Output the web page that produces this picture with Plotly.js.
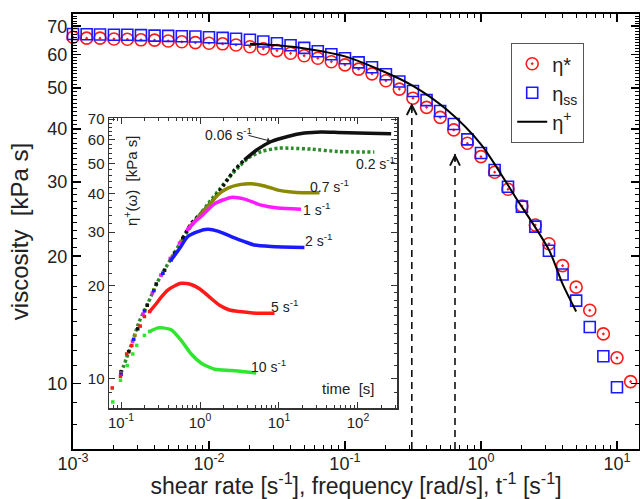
<!DOCTYPE html>
<html><head><meta charset="utf-8">
<script src="https://cdn.plot.ly/plotly-3.0.1.min.js"></script>
<style>html,body{margin:0;padding:0;background:#fff}#chart{width:640px;height:499px}</style>
</head><body><div id="chart"></div>
<script>
// ---------- main plot data ----------
const freqStar = [0.000794,0.001,0.00126,0.00158,0.002,0.00251,0.00316,0.00398,0.00501,0.00631,0.00794,
  0.01,0.0126,0.0158,0.02,0.0251,0.0316,0.0398,0.0501,0.0631,0.0794,
  0.1,0.126,0.158,0.2,0.251,0.316,0.398,0.501,0.631,0.794,
  1,1.26,1.58,2,2.51,3.16,3.98,5.01,6.31,7.94,10,12.6,15.8];
const etaStar = [64.5,65.9,65.6,65.6,65.3,65.2,65.0,64.9,64.6,64.3,64.0,
  63.8,63.6,63.2,62.6,61.9,61.3,60.4,59.6,58.8,57.7,
  56.7,55.4,54.0,52.0,49.7,47.3,45.0,42.6,39.8,37.0,
  34.4,31.6,28.8,26.3,23.7,21.4,19.0,16.9,14.9,13.1,11.5,10.1,8.8];
const freqSS = [0.001,0.00126,0.00158,0.002,0.00251,0.00316,0.00398,0.00501,0.00631,0.00794,
  0.01,0.0126,0.0158,0.02,0.0251,0.0316,0.0398,0.0501,0.0631,0.0794,
  0.1,0.126,0.158,0.2,0.251,0.316,0.398,0.501,0.631,0.794,
  1,1.26,1.58,2,2.51,3.16,3.98,5.01,6.31,7.94,10];
const etaSS = [67.1,67.0,66.9,66.8,66.8,66.7,66.5,66.4,66.3,66.2,
  65.9,65.7,65.4,65.0,64.4,63.8,63.1,62.2,61.1,60.1,
  58.8,57.5,56.0,53.9,51.8,49.2,46.8,44.1,41.1,37.8,
  35.1,32.0,29.2,26.2,23.5,20.6,18.1,15.7,13.6,11.6,9.8];
const ratePlus = [0.02,0.0316,0.0562,0.1,0.178,0.316,0.562,1,1.78,3.16,3.98,5.01];
const etaPlus  = [63.6,63.1,61.7,59.4,55.3,50.6,44.4,36.8,27.7,20.7,17.2,14.8];
const arrowRates = [0.31, 0.644];
const arrowTips  = [46.1, 35.0];
const mainXTicks = [0.001,0.01,0.1,1,10];
const mainXTickText = ['10<sup>-3</sup>','10<sup>-2</sup>','10<sup>-1</sup>','10<sup>0</sup>','10<sup>1</sup>'];
const mainYTicks = [10,20,30,40,50,60,70];

// ---------- inset data (time in s, eta+ in kPa s) ----------
const t006Rise = [0.1,0.125,0.163,0.215,0.279,0.356,0.476,0.605];
const e006Rise = [10.5,12.2,14.5,17.3,20.3,22.5,25.6,28.6];
const t006Dot  = [0.605,0.774,1.14,1.53,2.04,2.73,3.66];
const e006Dot  = [28.6,32.0,35.4,38.7,43.0,47.8,51.6];
const t006     = [3.66,5.4,7.97,12.9,21.0,34.2,55.5,99,263];
const e006     = [51.6,55.9,59.2,61.5,63.1,63.6,63.4,63.1,62.7];

const t02 = [0.1,0.13,0.17,0.22,0.29,0.37,0.48,0.62,0.8,1.04,1.35,1.75,2.3,3.0,4.03,5.96,9.67,14.2,25.5,55.5,161];
const e02 = [10.4,12.5,15.3,17.6,20.6,23.0,25.8,28.8,31.8,34.7,37.9,41.2,45.0,48.5,52.2,54.9,56.3,56.3,55.9,54.9,54.7];

const t07Rise = [0.1,0.15,0.2,0.26,0.34,0.45,0.58,0.75];
const e07Rise = [10.4,13.8,16.6,19.4,22.0,25.0,28.0,31.3];
const t07 = [0.75,1.0,1.26,1.68,2.25,3.32,4.44,6.55,9.67,14.3,20,32.6];
const e07 = [31.3,34.0,36.3,39.6,41.7,42.9,43.1,42.4,41.1,40.5,40.3,40.3];

const t1Rise = [0.1,0.14,0.19,0.25,0.32,0.42,0.55,0.7];
const e1Rise = [10.3,13.2,16.2,19.0,21.7,24.6,27.6,30.6];
const t1 = [0.7,0.85,1.03,1.53,2.48,3.66,5.96,9.67,19];
const e1 = [30.6,32.3,33.7,37.1,38.9,38.4,36.7,35.9,35.6];

const t2Rise = [0.1,0.145,0.198,0.26,0.338,0.431];
const e2Rise = [10.3,13.4,16.6,19.3,22.0,24.3];
const t2 = [0.431,0.551,0.70,0.94,1.26,1.68,2.48,3.66,4.87,7.97,21];
const e2 = [24.3,26.5,29.0,30.1,30.6,30.2,29.0,27.9,27.2,26.9,26.7];

const t5Rise = [0.0774,0.0985,0.118,0.137,0.175,0.198,0.23];
const e5Rise = [9.3,10.15,12.0,12.8,14.8,15.9,16.5];
const t5 = [0.23,0.279,0.323,0.391,0.475,0.578,0.736,0.986,1.32,1.77,2.36,3.16,5.14,8.77];
const e5 = [16.5,17.5,18.4,19.4,20.0,20.4,20.3,19.6,18.4,17.3,16.7,16.5,16.3,16.3];

const t10Rise = [0.0787,0.0985,0.12,0.141,0.158,0.198,0.23];
const e10Rise = [8.37,9.85,11.0,12.0,12.8,13.8,14.2];
const t10 = [0.23,0.292,0.338,0.431,0.578,0.774,1.04,1.53,2.48,3.66,5.14];
const e10 = [14.2,14.6,14.6,14.4,13.3,12.0,11.2,10.7,10.6,10.5,10.4];

const insetXTicks = [0.1,1,10,100];
const insetXTickText = ['10<sup>-1</sup>','10<sup>0</sup>','10<sup>1</sup>','10<sup>2</sup>'];
const insetYTicks = [10,20,30,40,50,60,70];
const rateLabels = ['0.06 s<sup>-1</sup>','0.2 s<sup>-1</sup>','0.7 s<sup>-1</sup>','1 s<sup>-1</sup>','2 s<sup>-1</sup>','5 s<sup>-1</sup>','10 s<sup>-1</sup>'];

// ---------- helpers ----------
const FONT = 'Liberation Sans, Arial, sans-serif';
const L = 73, T = 14, PW = 566, PH = 435;
const px = x => (x - L) / PW;
const py = y => (T + PH - y) / PH;
function minorLog(lo, hi) { const v = []; for (let d = lo; d < hi; d++) for (let k = 2; k <= 9; k++) v.push(k * Math.pow(10, d)); return v; }
function intTicks(a, b, step, skip) { const v = []; for (let i = a; i <= b; i += step) if (!skip.includes(i)) v.push(i); return v; }
const mainYMinor = intTicks(7, 74, 1, mainYTicks);
const insetYMinor = intTicks(8, 19, 1, insetYTicks).concat(intTicks(22, 70, 2, insetYTicks));

const traces = [];
function inset(x, y, color, mode, extra) {
  const t = {x: x, y: y, xaxis: 'x2', yaxis: 'y2', mode: mode, showlegend: false, hoverinfo: 'skip', cliponaxis: false};
  if (mode.includes('markers')) t.marker = {symbol: 'square', size: 3.5, color: color, line: {width: 0}};
  if (mode.includes('lines')) t.line = Object.assign({color: color, width: 3.5, shape: 'spline', smoothing: 0.6}, extra || {});
  traces.push(t);
}
inset(t02, e02, '#2a8c2a', 'lines', {dash: '3px,2.5px', width: 3.5});
inset(t006Rise, e006Rise, '#111', 'markers');
inset(t006Dot, e006Dot, '#111', 'lines', {dash: '3px,3px', width: 3.5});
inset(t006, e006, '#111', 'lines');
inset(t07Rise, e07Rise, '#8a8a00', 'markers');
inset(t07, e07, '#8a8a00', 'lines');
inset(t1Rise, e1Rise, '#ff1aff', 'markers');
inset(t1, e1, '#ff1aff', 'lines');
inset(t2Rise, e2Rise, '#1a1aff', 'markers');
inset(t2, e2, '#1a1aff', 'lines');
inset(t5Rise, e5Rise, '#ff1a1a', 'markers');
inset(t5, e5, '#ff1a1a', 'lines');
inset(t10Rise, e10Rise, '#2ee62e', 'markers');
inset(t10, e10, '#2ee62e', 'lines');

traces.push({x: freqStar, y: etaStar, mode: 'markers', name: 'η*', cliponaxis: false,
  marker: {symbol: 'circle-open-dot', size: 12, color: '#ff1a1a', line: {width: 1.6, color: '#ff1a1a'}}});
traces.push({x: freqSS, y: etaSS, mode: 'markers', name: 'η<sub>ss</sub>', cliponaxis: false,
  marker: {symbol: 'square-open', size: 11, color: '#1a1aff', line: {width: 1.6, color: '#1a1aff'}}});
traces.push({x: ratePlus, y: etaPlus, mode: 'lines', name: 'η<sup>+</sup>',
  line: {color: '#000', width: 2, shape: 'spline', smoothing: 0.8}});

// dashed arrows
const shapes = [];
const ann = [];
arrowRates.forEach((r, i) => {
  shapes.push({type: 'line', xref: 'x', yref: 'y', x0: r, x1: r, y0: 7.0, y1: arrowTips[i],
    line: {color: '#111', width: 1.6, dash: '7px,5px'}});
  ann.push({xref: 'x', yref: 'y', x: Math.log10(r), y: Math.log10(arrowTips[i]), ax: 0, ay: 10, text: '',
    showarrow: true, arrowhead: 5, arrowsize: 1.3, arrowwidth: 1.5, arrowcolor: '#111'});
});

// annotations
const labelPos = [[228,134],[375,163],[329,186],[316,209],[318,240],[284,306],[268,366]];
rateLabels.forEach((s, i) => ann.push({xref: 'paper', yref: 'paper', x: px(labelPos[i][0]), y: py(labelPos[i][1]),
  text: s, showarrow: false, font: {family: FONT, size: 14, color: '#222'}, xanchor: 'center', yanchor: 'middle'}));
ann.push({xref: 'paper', yref: 'paper', x: px(270), y: py(141), ax: -23, ay: -6, text: '', showarrow: true,
  arrowhead: 1, arrowsize: 1, arrowwidth: 1, arrowcolor: '#222'});
ann.push({xref: 'paper', yref: 'paper', x: px(131), y: py(181), text: 'η<sup>+</sup>(ω)\u00a0\u00a0[kPa\u00a0s]', textangle: -90,
  showarrow: false, font: {family: FONT, size: 15, color: '#222'}, xanchor: 'center', yanchor: 'middle'});
ann.push({xref: 'paper', yref: 'paper', x: px(348), y: py(388), text: 'time\u00a0\u00a0[s]',
  showarrow: false, font: {family: FONT, size: 15, color: '#222'}, xanchor: 'center', yanchor: 'middle'});

const axMain = {type: 'log', showline: true, linecolor: '#000', linewidth: 2, mirror: 'allticks', ticks: 'inside',
  ticklen: 8, tickwidth: 1.5, tickcolor: '#000', showgrid: false, zeroline: false,
  tickfont: {family: FONT, size: 18, color: '#222'}, tickmode: 'array'};
const axInset = {type: 'log', showline: true, linecolor: '#333', linewidth: 1.5, mirror: 'allticks', ticks: 'inside',
  ticklen: 6, tickwidth: 1, tickcolor: '#333', showgrid: false, zeroline: false,
  tickfont: {family: FONT, size: 15, color: '#222'}, tickmode: 'array'};

const layout = {
  width: 640, height: 499, margin: {l: L, r: 640 - L - PW, t: T, b: 499 - T - PH},
  paper_bgcolor: '#fff', plot_bgcolor: '#fff', font: {family: FONT, color: '#222'},
  xaxis: Object.assign({}, axMain, {range: [-3, 1.162], domain: [0, 1], anchor: 'y',
    tickvals: mainXTicks, ticktext: mainXTickText, ticklabelstandoff: -3,
    minor: {tickvals: minorLog(-3, 2), ticks: 'inside', ticklen: 4, tickwidth: 1, tickcolor: '#000'},
    title: {text: 'shear rate [s<sup>-1</sup>], frequency [rad/s], t<sup>-1</sup> [s<sup>-1</sup>]',
      font: {family: FONT, size: 23, color: '#222'}, standoff: 9}}),
  yaxis: Object.assign({}, axMain, {range: [0.845, 1.874], domain: [0, 1], anchor: 'x',
    tickvals: mainYTicks, ticktext: mainYTicks.map(String),
    minor: {tickvals: mainYMinor, ticks: 'inside', ticklen: 4, tickwidth: 1, tickcolor: '#000'},
    title: {text: 'viscosity\u00a0\u00a0[kPa\u00a0s]', font: {family: FONT, size: 24, color: '#222'}, standoff: 12}}),
  xaxis2: Object.assign({}, axInset, {range: [-1.152, 2.494], domain: [px(109), px(397)], anchor: 'y2',
    tickvals: insetXTicks, ticktext: insetXTickText,
    minor: {tickvals: minorLog(-2, 3), ticks: 'inside', ticklen: 3, tickwidth: 1, tickcolor: '#333'}}),
  yaxis2: Object.assign({}, axInset, {range: [0.903, 1.849], domain: [py(408), py(118)], anchor: 'x2',
    tickvals: insetYTicks, ticktext: insetYTicks.map(String),
    minor: {tickvals: insetYMinor, ticks: 'inside', ticklen: 3, tickwidth: 1, tickcolor: '#333'}}),
  legend: {x: px(511), y: py(43), xanchor: 'left', yanchor: 'top', bgcolor: '#fff', bordercolor: '#555', borderwidth: 1.2,
    font: {family: FONT, size: 20, color: '#222'}, tracegroupgap: 0},
  shapes: shapes, annotations: ann, showlegend: true
};
Plotly.newPlot('chart', traces, layout, {displayModeBar: false, staticPlot: true});
</script></body></html>
